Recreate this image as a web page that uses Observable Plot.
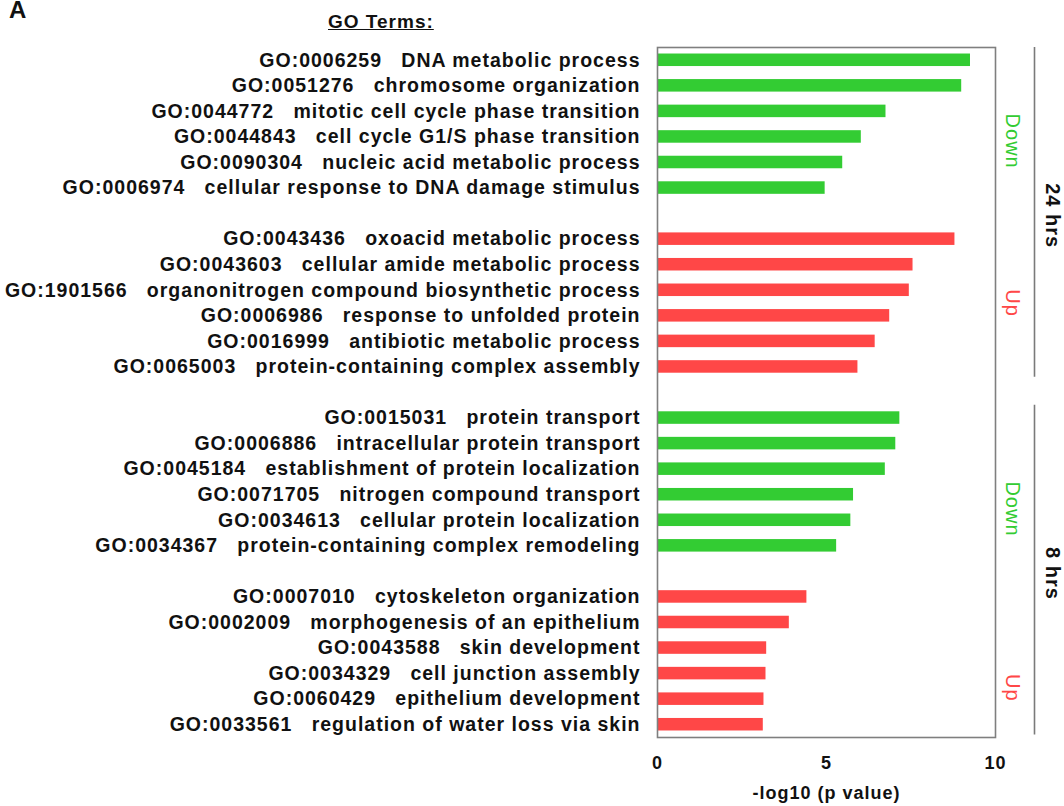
<!DOCTYPE html>
<html><head><meta charset="utf-8">
<script src="https://cdn.jsdelivr.net/npm/d3@7"></script>
<script src="https://cdn.jsdelivr.net/npm/@observablehq/plot@0.6"></script>
<style>
body{margin:0;background:#fff;font-family:"Liberation Sans",Arial,sans-serif;}
#wrap{position:relative;width:1064px;height:806px;overflow:hidden;}
#panel{position:absolute;left:9px;top:-2px;font-size:24px;font-weight:bold;color:#111;line-height:24px;letter-spacing:0;}
#goTerms{position:absolute;left:328px;top:12px;font-size:19px;line-height:19px;font-weight:bold;text-decoration:underline;letter-spacing:1px;color:#111;}
</style></head><body>
<div id="wrap"><div id="chart"></div><div id="panel">A</div><div id="goTerms">GO Terms:</div></div>
<script>
const goIds = [
  "GO:0006259","GO:0051276","GO:0044772","GO:0044843","GO:0090304","GO:0006974",
  "GO:0043436","GO:0043603","GO:1901566","GO:0006986","GO:0016999","GO:0065003",
  "GO:0015031","GO:0006886","GO:0045184","GO:0071705","GO:0034613","GO:0034367",
  "GO:0007010","GO:0002009","GO:0043588","GO:0034329","GO:0060429","GO:0033561"
];
const goNames = [
  "DNA metabolic process","chromosome organization","mitotic cell cycle phase transition",
  "cell cycle G1/S phase transition","nucleic acid metabolic process","cellular response to DNA damage stimulus",
  "oxoacid metabolic process","cellular amide metabolic process","organonitrogen compound biosynthetic process",
  "response to unfolded protein","antibiotic metabolic process","protein-containing complex assembly",
  "protein transport","intracellular protein transport","establishment of protein localization",
  "nitrogen compound transport","cellular protein localization","protein-containing complex remodeling",
  "cytoskeleton organization","morphogenesis of an epithelium","skin development",
  "cell junction assembly","epithelium development","regulation of water loss via skin"
];
const values = [
  9.26, 9.00, 6.76, 6.03, 5.48, 4.96,
  8.80, 7.56, 7.45, 6.87, 6.44, 5.93,
  7.17, 7.05, 6.74, 5.80, 5.72, 5.30,
  4.42, 3.90, 3.23, 3.21, 3.15, 3.13
];
const groupDirections = ["Down","Up","Down","Up"];
const groupTimes = ["24 hrs","24 hrs","8 hrs","8 hrs"];
const timeLabels = ["24 hrs","8 hrs"];
const xTicks = [0,5,10];
const xLabel = "-log10 (p value)";

const GREEN = "#33cc33", RED = "#ff4747";
const perGroup = 6;

const rows = goIds.map((id, i) => {
  const g = Math.floor(i / perGroup);
  return {
    row: i + g,
    label: id + "\u00a0\u00a0\u00a0" + goNames[i],
    value: values[i],
    dir: groupDirections[g],
    time: groupTimes[g]
  };
});
const labelByRow = new Map(rows.map(d => [d.row, d.label]));

const dirLabels = groupDirections.map((dir, g) => ({
  dir, time: groupTimes[g], mid: g * (perGroup + 1) + (perGroup - 1) / 2
}));
const timeSpans = timeLabels.map((t, k) => {
  const r = rows.filter(d => d.time === t).map(d => d.row);
  return {time: t, y1: d3.min(r) - 0.5, y2: d3.max(r) + 0.4, mid: (d3.min(r) + d3.max(r)) / 2};
});
const nRows = d3.max(rows, d => d.row) + 1;

const dirStyle = {x: () => 10, y: "mid", text: "dir", dx: 17, rotate: 90, fontSize: 20, fontWeight: "normal", letterSpacing: "0px", fill: d => d.dir === "Down" ? GREEN : RED};

const chart = Plot.plot({
  width: 1064, height: 806,
  marginLeft: 657, marginRight: 69, marginTop: 47, marginBottom: 69,
  x: {type: "linear", domain: [0, 10], axis: null},
  y: {type: "linear", domain: [-0.5, nRows - 0.5], reverse: true, axis: null},
  color: {type: "identity"},
  style: {fontFamily: "'Liberation Sans', Arial, sans-serif", fontWeight: "bold", letterSpacing: "1px", color: "#111", background: "transparent"},
  marks: [
    Plot.rect(rows, {x1: () => 0, x2: "value", y1: d => d.row - 0.245, y2: d => d.row + 0.245, fill: d => d.dir === "Down" ? GREEN : RED}),
    Plot.frame({stroke: "#7f7f7f", strokeWidth: 1.6}),
    Plot.axisY(rows.map(d => d.row), {tickSize: 0, tickPadding: 17, tickFormat: r => labelByRow.get(r), fontSize: 19.5, fontWeight: "bold", fill: "#111"}),
    Plot.axisX(xTicks, {tickSize: 0, tickPadding: 19, fontSize: 18, fontWeight: "bold", fill: "#111", label: null}),
    Plot.text([xLabel], {frameAnchor: "bottom", text: d => d, dy: 61, fontSize: 18, fontWeight: "bold", fill: "#111"}),
    Plot.ruleX(timeSpans, {x: () => 10, y1: "y1", y2: "y2", dx: 39, stroke: "#7a7a7a", strokeWidth: 1.6}),
    Plot.text(timeSpans, {x: () => 10, y: "mid", text: "time", dx: 57, dy: 2, rotate: 90, fontSize: 20, fontWeight: "bold", letterSpacing: "0.5px", fill: "#111"}),
    Plot.text(dirLabels.filter(d => d.dir === "Down" && d.time === "24 hrs"), {...dirStyle, dy: 17}),
    Plot.text(dirLabels.filter(d => d.dir === "Up" && d.time === "24 hrs"), {...dirStyle, dy: 0}),
    Plot.text(dirLabels.filter(d => d.time === "8 hrs"), {...dirStyle, dy: 27})
  ]
});
document.getElementById("chart").appendChild(chart);
</script>
</body></html>
